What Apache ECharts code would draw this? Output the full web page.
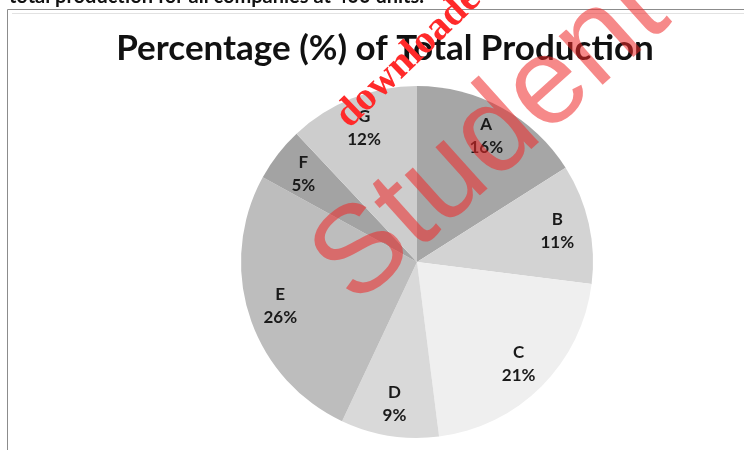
<!DOCTYPE html>
<html>
<head>
<meta charset="utf-8">
<script src="https://cdn.jsdelivr.net/npm/echarts@6/dist/echarts.min.js"></script>
<style>
html,body{margin:0;padding:0;background:#fff;}
#main{width:744px;height:450px;}
</style>
</head>
<body>
<div id="main"></div>
<script>
// ---- data ----
const categories = ['A', 'B', 'C', 'D', 'E', 'F', 'G'];
const percentages = [16, 11, 21, 9, 26, 5, 12];
const sliceColors = ['#a6a6a6', '#d3d3d3', '#efefef', '#d9d9d9', '#bdbdbd', '#a3a3a3', '#cdcdcd'];
const titleText = 'Percentage (%) of Total Production';
const headerText = 'total production for all companies at 400 units.';
const watermarkBig = 'Student';
const watermarkSmall = 'downloaded';

const chart = echarts.init(document.getElementById('main'));
const R = 176;
const center = [417, 262];
const deg = Math.PI / 180;

const pieData = categories.map((c, i) => ({
  name: c, value: percentages[i], itemStyle: { color: sliceColors[i] }
}));
const labelData = categories.map((c, i) => ({ name: c, value: percentages[i] }));

chart.setOption({
  animation: false,
  title: {
    text: titleText,
    left: 380, top: 26, textAlign: 'center',
    textStyle: { fontFamily: 'Lato', fontWeight: 'bold', fontSize: 35, color: '#111' }
  },
  series: [
    {
      type: 'pie', center: center, radius: [0, R], startAngle: 90, clockwise: true,
      silent: true, label: { show: false }, labelLine: { show: false },
      itemStyle: { borderWidth: 0 },
      data: pieData
    },
    {
      type: 'pie', center: center, radius: [R * 0.6, R], startAngle: 90, clockwise: true,
      silent: true, labelLine: { show: false },
      itemStyle: { color: 'rgba(0,0,0,0)', borderWidth: 0 },
      label: {
        show: true, position: 'inside',
        formatter: p => p.name + '\n' + p.value + '%',
        fontFamily: 'Lato', fontWeight: 'bold', fontSize: 17, lineHeight: 23, color: '#1a1a1a'
      },
      data: labelData
    }
  ],
  graphic: [
    { type: 'text', x: 9, y: 7, style: { text: headerText, fontFamily: 'Lato', fontWeight: 'bold', fontSize: 20, fill: '#111', verticalAlign: 'bottom' }, z: 10 },
    { type: 'line', shape: { x1: 7.5, y1: 9.5, x2: 744, y2: 9.5 }, style: { stroke: '#8c8c8c', lineWidth: 1 } },
    { type: 'line', shape: { x1: 7.5, y1: 9.5, x2: 7.5, y2: 450 }, style: { stroke: '#8c8c8c', lineWidth: 1 } },
    { type: 'line', shape: { x1: 12, y1: 13.5, x2: 744, y2: 13.5 }, style: { stroke: '#e2e2e2', lineWidth: 1 } },
    { type: 'text', x: 374, y: 328, rotation: 42 * deg, z: 100,
      style: { text: watermarkBig, fontFamily: 'Liberation Sans', fontSize: 124, fill: 'rgba(238,40,40,0.55)', verticalAlign: 'bottom' } },
    { type: 'text', x: 356, y: 136, rotation: 44 * deg, z: 101,
      style: { text: watermarkSmall, fontFamily: 'Liberation Serif', fontWeight: 'bold', fontSize: 40, fill: '#ff2a2a', verticalAlign: 'bottom' } }
  ]
});
</script>
</body>
</html>
